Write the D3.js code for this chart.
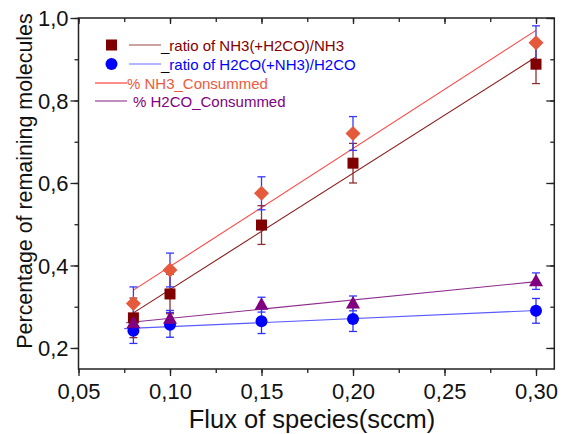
<!DOCTYPE html>
<html><head><meta charset="utf-8">
<script src="https://cdn.jsdelivr.net/npm/d3@7"></script>
<style>body{margin:0;background:#fff}svg{display:block}</style>
</head><body>
<script>
const flux = [0.08, 0.10, 0.15, 0.20, 0.30];
const ratioNH3 = [0.273, 0.331, 0.498, 0.648, 0.888];
const ratioNH3Err = [0.048, 0.048, 0.047, 0.048, 0.047];
const ratioH2CO = [0.242, 0.256, 0.265, 0.270, 0.290];
const ratioH2COErr = [0.031, 0.030, 0.030, 0.030, 0.030];
const consNH3 = [0.308, 0.389, 0.575, 0.720, 0.940];
const consNH3Err = [0.040, 0.041, 0.040, 0.041, 0.041];
const consH2CO = [0.260, 0.271, 0.305, 0.308, 0.362];
const consH2COErr = [0.020, 0.020, 0.018, 0.018, 0.020];
const xTicks = [0.05, 0.10, 0.15, 0.20, 0.25, 0.30];
const yTicks = [0.2, 0.4, 0.6, 0.8, 1.0];
const legendLabels = ["ratio of NH3(+H2CO)/NH3", "ratio of H2CO(+NH3)/H2CO", "% NH3_Consummed", "% H2CO_Consummed"];

const W = 561, H = 434;
const FONT = "'Liberation Sans', Arial, sans-serif";
const svg = d3.select("body").append("svg").attr("width", W).attr("height", H)
  .style("font-family", FONT);

const x = d3.scaleLinear().domain([0.05, 0.31]).range([78.5, 554.3]);
const y = d3.scaleLinear().domain([0.149, 1.0]).range([369, 18]);

const series = [
  {vals: ratioNH3, err: ratioNH3Err, color: "#800000", errColor: "#8f3030", fit: "#8b1a1a", x0: 0.08, shape: "square"},
  {vals: ratioH2CO, err: ratioH2COErr, color: "#0000ff", errColor: "#3030ff", fit: "#5a5aff", x0: 0.075, shape: "circle"},
  {vals: consNH3, err: consNH3Err, color: "#e55a3c", errColor: "#3838ff", fit: "#ff4545", x0: 0.08, shape: "diamond"},
  {vals: consH2CO, err: consH2COErr, color: "#800080", errColor: "#3838ff", fit: "#8e2e8e", x0: 0.076, shape: "triangle"}
];

function fitLine(xs, ys) {
  const mx = d3.mean(xs), my = d3.mean(ys);
  let sxy = 0, sxx = 0;
  xs.forEach((v, i) => { sxy += (v - mx) * (ys[i] - my); sxx += (v - mx) * (v - mx); });
  const b = sxy / sxx, a = my - b * mx;
  return v => a + b * v;
}

// fit lines
series.forEach(s => {
  const f = fitLine(flux, s.vals);
  svg.append("line")
    .attr("x1", x(s.x0)).attr("y1", y(f(s.x0)))
    .attr("x2", x(0.30)).attr("y2", y(f(0.30)))
    .attr("stroke", s.fit).attr("stroke-width", 1.1);
});

// error bars
series.forEach(s => {
  const g = svg.append("g").attr("stroke", s.errColor).attr("stroke-width", 1.3);
  flux.forEach((fx, i) => {
    const cx = x(fx), yt = y(s.vals[i] + s.err[i]), yb = y(s.vals[i] - s.err[i]);
    g.append("line").attr("x1", cx).attr("x2", cx).attr("y1", yt).attr("y2", yb);
    g.append("line").attr("x1", cx - 4).attr("x2", cx + 4).attr("y1", yt).attr("y2", yt);
    g.append("line").attr("x1", cx - 4).attr("x2", cx + 4).attr("y1", yb).attr("y2", yb);
  });
});

function drawMarker(g, shape, cx, cy, color) {
  if (shape === "square") {
    g.append("rect").attr("x", cx - 5.5).attr("y", cy - 5.5).attr("width", 11).attr("height", 11).attr("fill", color);
  } else if (shape === "circle") {
    g.append("circle").attr("cx", cx).attr("cy", cy).attr("r", 6).attr("fill", color);
  } else if (shape === "diamond") {
    g.append("path").attr("d", `M${cx},${cy-7.5}L${cx+7.5},${cy}L${cx},${cy+7.5}L${cx-7.5},${cy}Z`).attr("fill", color);
  } else {
    g.append("path").attr("d", `M${cx},${cy-7.5}L${cx+7},${cy+5}L${cx-7},${cy+5}Z`).attr("fill", color);
  }
}

// markers
[0, 1, 2, 3].forEach(k => {
  const s = series[k];
  const g = svg.append("g");
  flux.forEach((fx, i) => drawMarker(g, s.shape, x(fx), y(s.vals[i]), s.color));
});

// axes frame
const axColor = "#222";
const frame = svg.append("g").attr("stroke", axColor).attr("stroke-width", 1.5).attr("fill", "none");
frame.append("rect").attr("x", x.range()[0]).attr("y", y.range()[1])
  .attr("width", x.range()[1] - x.range()[0]).attr("height", y.range()[0] - y.range()[1]);

const fmtX = v => d3.format(".2f")(v).replace(".", ",");
const fmtY = v => d3.format(".1f")(v).replace(".", ",");
const xMinor = d3.range(0.05, 0.3101, 0.025);
const yMinor = d3.range(0.2, 1.001, 0.1);

const xb = svg.append("g").attr("transform", `translate(0,${y.range()[0]})`)
  .call(d3.axisBottom(x).tickValues(xTicks).tickFormat(fmtX).tickSize(7).tickSizeOuter(0));
svg.append("g").attr("transform", `translate(0,${y.range()[0]})`)
  .call(d3.axisBottom(x).tickValues(xMinor).tickFormat("").tickSize(4).tickSizeOuter(0));
const yl = svg.append("g").attr("transform", `translate(${x.range()[0]},0)`)
  .call(d3.axisLeft(y).tickValues(yTicks).tickFormat(fmtY).tickSize(8).tickSizeOuter(0));
svg.append("g").attr("transform", `translate(${x.range()[0]},0)`)
  .call(d3.axisLeft(y).tickValues(yMinor).tickFormat("").tickSize(4).tickSizeOuter(0));
// mirrored inward ticks top/right
svg.append("g").attr("transform", `translate(0,${y.range()[1]})`)
  .call(d3.axisBottom(x).tickValues(xTicks).tickFormat("").tickSize(6).tickSizeOuter(0));
svg.append("g").attr("transform", `translate(0,${y.range()[1]})`)
  .call(d3.axisBottom(x).tickValues(xMinor).tickFormat("").tickSize(4).tickSizeOuter(0));
svg.append("g").attr("transform", `translate(${x.range()[1]},0)`)
  .call(d3.axisLeft(y).tickValues(yTicks).tickFormat("").tickSize(8).tickSizeOuter(0));
svg.append("g").attr("transform", `translate(${x.range()[1]},0)`)
  .call(d3.axisLeft(y).tickValues(yMinor).tickFormat("").tickSize(4).tickSizeOuter(0));
svg.selectAll(".domain").remove();
svg.selectAll(".tick line").attr("stroke", axColor).attr("stroke-width", 1.3);
xb.selectAll(".tick text").attr("font-size", 22).attr("font-family", FONT).attr("fill", "#111").attr("dy", "0.95em").attr("y", 9);
yl.selectAll(".tick text").attr("font-size", 22).attr("font-family", FONT).attr("fill", "#111").attr("x", -10).attr("dy", "0.36em");

// axis titles
svg.append("text").attr("x", 312).attr("y", 428).attr("text-anchor", "middle")
  .attr("font-size", 25.5).attr("fill", "#111").text("Flux of species(sccm)");
svg.append("text").attr("transform", "translate(32,181) rotate(-90)").attr("text-anchor", "middle")
  .attr("font-size", 21.4).attr("fill", "#111").text("Percentage of remaining molecules");

// legend
const lg = svg.append("g").attr("font-size", 15);
const legendRows = [
  {y: 45, marker: "square", mcolor: "#800000", lcolor: "#b07070", lx1: 129, lx2: 161, tx: 161, under: true, tcolor: "#800000", label: legendLabels[0]},
  {y: 64, marker: "circle", mcolor: "#0000ff", lcolor: "#8c8cff", lx1: 129, lx2: 161, tx: 161, under: true, tcolor: "#0000ff", label: legendLabels[1]},
  {y: 83, marker: null, lcolor: "#ff5050", lx1: 95, lx2: 127, tx: 127, under: false, tcolor: "#f05a3c", label: legendLabels[2]},
  {y: 101, marker: null, lcolor: "#a050a0", lx1: 95, lx2: 127, tx: 133, under: false, tcolor: "#800080", label: legendLabels[3]}
];
legendRows.forEach(r => {
  if (r.marker === "square") lg.append("rect").attr("x", 106).attr("y", r.y - 5.5).attr("width", 11).attr("height", 11).attr("fill", r.mcolor);
  if (r.marker === "circle") lg.append("circle").attr("cx", 111.5).attr("cy", r.y).attr("r", 6).attr("fill", r.mcolor);
  lg.append("line").attr("x1", r.lx1).attr("x2", r.lx2).attr("y1", r.y).attr("y2", r.y).attr("stroke", r.lcolor).attr("stroke-width", 1.3);
  const t = lg.append("text").attr("x", r.tx).attr("y", r.y + 5.5);
  if (r.under) {
    t.append("tspan").attr("fill", "#000").text("_");
    t.append("tspan").attr("fill", r.tcolor).text(r.label);
  } else {
    t.attr("fill", r.tcolor).text(r.label);
  }
});
</script>
</body></html>
